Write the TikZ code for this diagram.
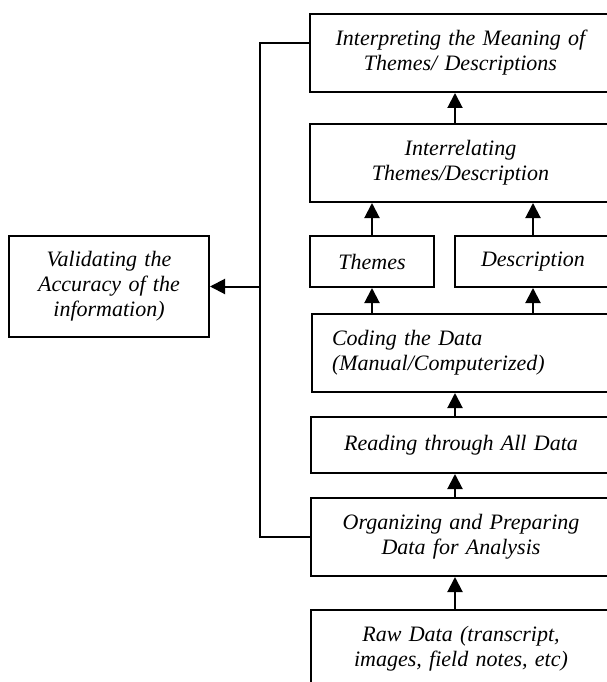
\documentclass[tikz,border=0pt]{standalone}
\usepackage{fontspec}
\setmainfont{Liberation Serif}
\usetikzlibrary{arrows.meta,positioning,calc}

\begin{document}
\begin{tikzpicture}[x=1pt, y=-1pt, >={Triangle[length=15pt,width=15pt]},
   box/.style={draw, line width=2pt, inner xsep=6pt, inner ysep=0pt, anchor=north west,
      align=center, font=\itshape\fontsize{22}{25}\selectfont},
   link/.style={line width=2pt}]

    \useasboundingbox (0,0) rectangle (607,682);
    \clip (0,0) rectangle (607,682);

    % Place nodes
    \node [box, text width=289pt, minimum width=301pt, minimum height=78pt] (interp) at (309,13)
       {Interpreting the Meaning of\\Themes/ Descriptions};
    \node [box, text width=289pt, minimum width=301pt, minimum height=78pt] (interrel) at (309,123)
       {Interrelating\\Themes/Description};
    \node [box, text width=112pt, minimum width=124pt, minimum height=51pt] (themes) at (309,235)
       {Themes};
    \node [box, text width=144pt, minimum width=156pt, minimum height=51pt] (descr) at (454,235)
       {Description};
    \node [box, align=left, inner xsep=20pt, text width=259pt, minimum width=299pt, minimum height=78pt] (coding) at (311,313)
       {Coding the Data\\(Manual/Computerized)};
    \node [box, text width=288pt, minimum width=300pt, minimum height=56pt] (reading) at (310,416)
       {Reading through All Data};
    \node [box, text width=288pt, minimum width=300pt, minimum height=78pt] (organ) at (310,497)
       {Organizing and Preparing\\Data for Analysis};
    \node [box, text width=288pt, minimum width=300pt, minimum height=78pt] (raw) at (310,609)
       {Raw Data (transcript,\\images, field notes, etc)};
    \node [box, text width=188pt, minimum width=200pt, minimum height=101pt] (valid) at (8,235)
       {Validating the\\Accuracy of the\\information)};

    \coordinate (col) at (455,0);
    \coordinate (rail) at (260,0);

    % Draw edges
    \draw [link,->] (col |- raw.north) -- (col |- organ.south);
    \draw [link,->] (col |- organ.north) -- (col |- reading.south);
    \draw [link,->] (col |- reading.north) -- (col |- coding.south);
    \draw [link,->] (coding.north -| themes) -- (themes.south);
    \draw [link,->] (coding.north -| descr) -- (descr.south);
    \draw [link,->] (themes.north) -- (themes.north |- interrel.south);
    \draw [link,->] (descr.north) -- (descr.north |- interrel.south);
    \draw [link,->] (col |- interrel.north) -- (col |- interp.south);

    \draw [link] ([yshift=-30pt]interp.north west) -| (rail |- organ.west) -- (organ.west);
    \draw [link,->] (rail |- valid.east) -- (valid.east);
\end{tikzpicture}
\end{document}
